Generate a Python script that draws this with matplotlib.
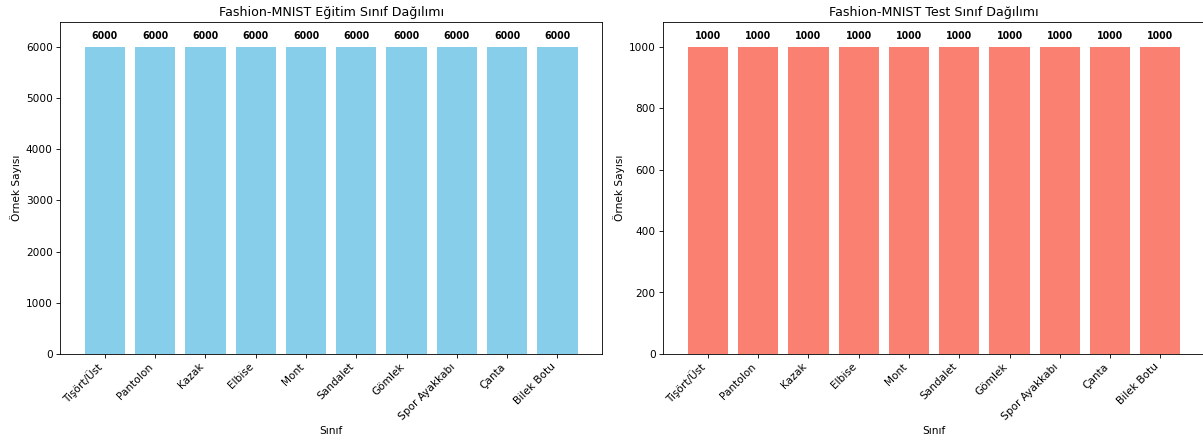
import matplotlib
matplotlib.use("Agg")
import matplotlib.pyplot as plt

class_names = ["Tişört/Üst", "Pantolon", "Kazak", "Elbise", "Mont",
               "Sandalet", "Gömlek", "Spor Ayakkabı", "Çanta", "Bilek Botu"]
train_counts = [6000, 6000, 6000, 6000, 6000, 6000, 6000, 6000, 6000, 6000]
test_counts = [1000, 1000, 1000, 1000, 1000, 1000, 1000, 1000, 1000, 1000]


def plot_distribution(ax, counts, color, title):
    bars = ax.bar(class_names, counts, color=color)
    top = max(counts)
    for bar, c in zip(bars, counts):
        ax.text(bar.get_x() + bar.get_width() / 2, c + top * 0.02, str(c),
                ha="center", va="bottom", fontsize=9, fontweight="bold")
    ax.set_ylim(0, top * 1.08)
    ax.set_title(title)
    ax.set_xlabel("Sınıf")
    ax.set_ylabel("Örnek Sayısı")
    plt.setp(ax.get_xticklabels(), rotation=45, ha="right")


fig, (ax1, ax2) = plt.subplots(1, 2, figsize=(15.83, 5.83), dpi=76)
plot_distribution(ax1, train_counts, "skyblue", "Fashion-MNIST Eğitim Sınıf Dağılımı")
plot_distribution(ax2, test_counts, "salmon", "Fashion-MNIST Test Sınıf Dağılımı")
fig.subplots_adjust(left=0.05, right=1.0017, top=0.95, bottom=0.201, wspace=0.1125)
fig.savefig("out.png", dpi=76)
